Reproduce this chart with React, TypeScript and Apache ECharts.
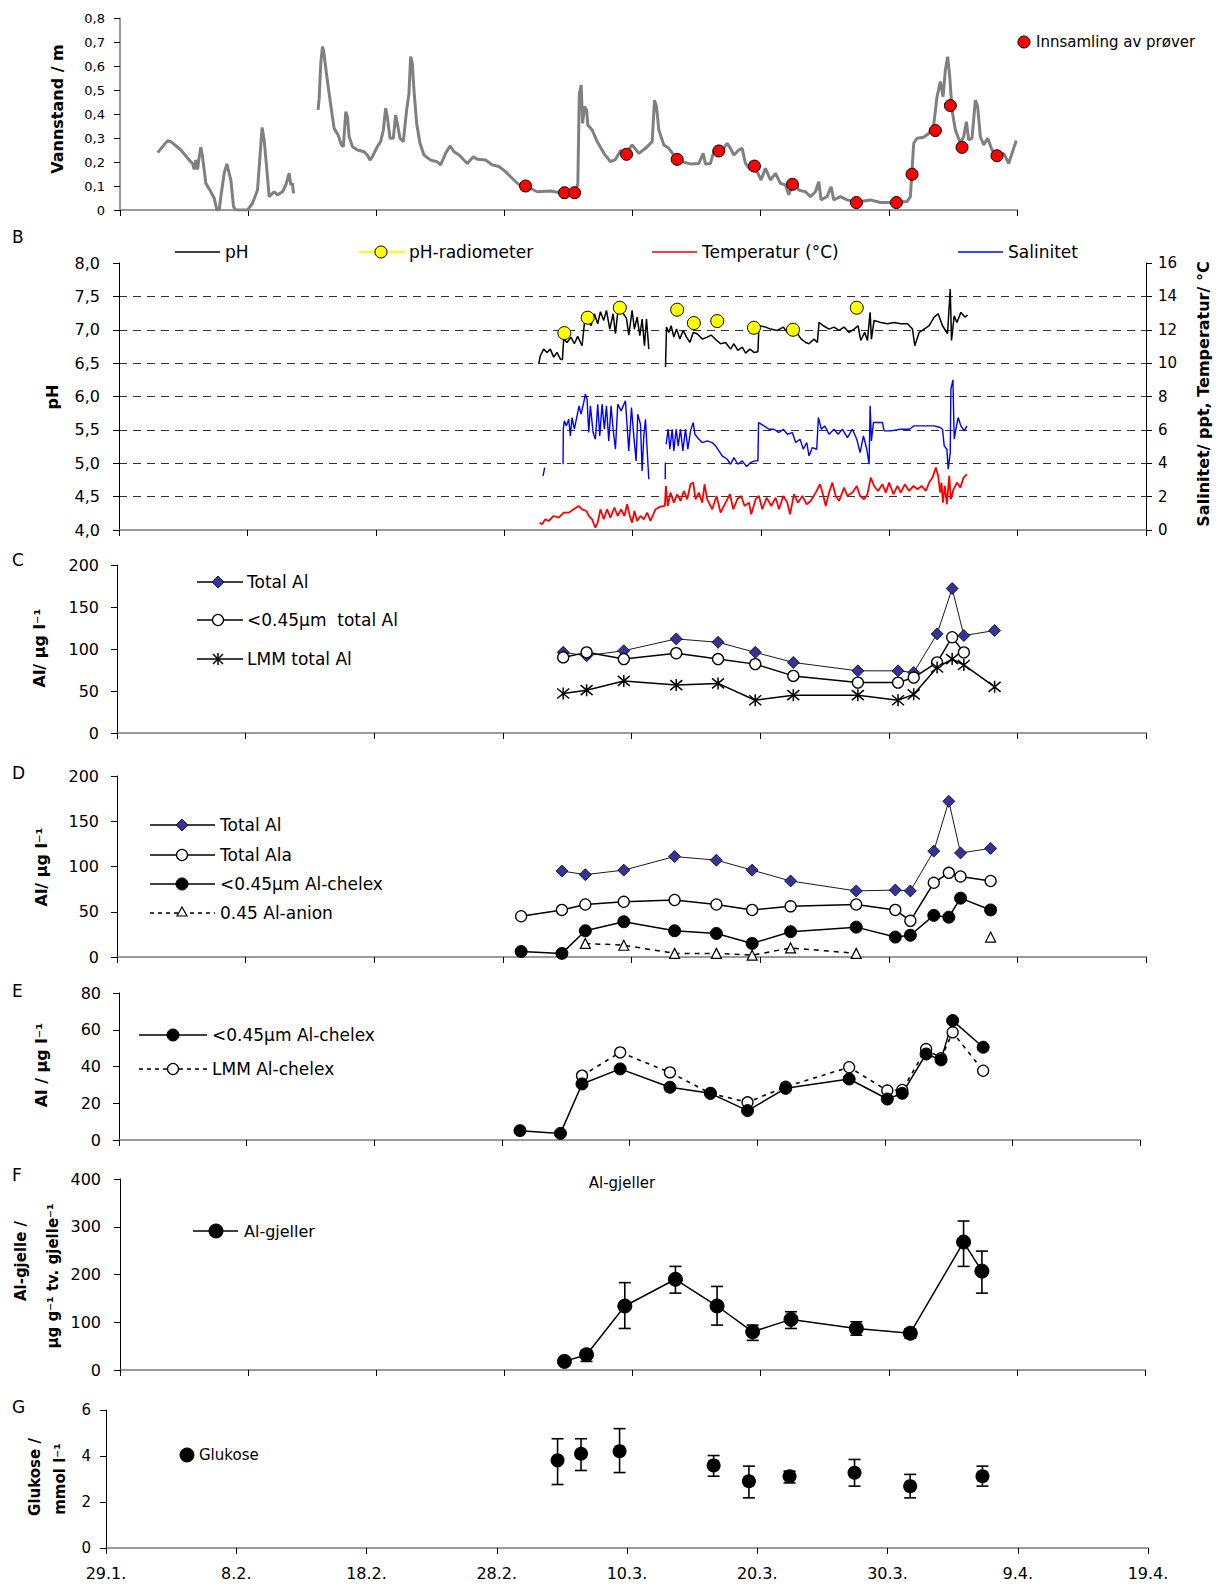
import React, { useEffect, useRef } from 'react';
import * as echarts from 'echarts';

// x values are days after 29.1.
const dateLabels = ['29.1.', '8.2.', '18.2.', '28.2.', '10.3.', '20.3.', '30.3.', '9.4.', '19.4.'];

// A: water level (m)
const waterLevel: [number, number | string][] = [
  [2.94, 0.239], [3.72, 0.289], [3.97, 0.285], [4.75, 0.25], [5.4, 0.208], [5.66, 0.194], [5.79, 0.169], [5.92, 0.208],
  [6.05, 0.169], [6.18, 0.222], [6.31, 0.261], [6.44, 0.222], [6.57, 0.167], [6.7, 0.111], [7.09, 0.076], [7.35, 0.049],
  [7.56, 0], [7.74, 0], [7.87, 0.056], [8.13, 0.153], [8.34, 0.192], [8.65, 0.125], [8.86, 0.014], [9.04, 0], [9.95, 0],
  [10.34, 0.028], [10.73, 0.083], [10.94, 0.236], [11.09, 0.344], [11.25, 0.292], [11.46, 0.167], [11.64, 0.056],
  [12.03, 0.076], [12.29, 0.063], [12.68, 0.076], [12.94, 0.104], [13.2, 0.153], [13.33, 0.104], [13.46, 0.111], [13.54, 0.069],
  [14.5, '-'],
  [15.46, 0.417], [15.54, 0.465], [15.67, 0.611], [15.8, 0.681], [15.9, 0.66], [15.98, 0.625], [16.14, 0.556], [16.32, 0.486],
  [16.5, 0.417], [16.71, 0.34], [17.02, 0.313], [17.28, 0.271], [17.43, 0.264], [17.62, 0.41], [17.75, 0.389], [17.88, 0.306],
  [18.14, 0.264], [18.53, 0.25], [19.05, 0.243], [19.3, 0.229], [19.51, 0.208], [19.7, 0.222], [20.08, 0.264], [20.34, 0.285],
  [20.55, 0.333], [20.73, 0.424], [20.86, 0.389], [21.07, 0.299], [21.33, 0.299], [21.51, 0.396], [21.64, 0.361], [21.85, 0.299],
  [22.11, 0.285], [22.37, 0.417], [22.55, 0.486], [22.68, 0.639], [22.81, 0.611], [22.94, 0.5], [23.15, 0.361], [23.41, 0.278],
  [23.72, 0.229], [24.24, 0.208], [24.76, 0.201], [25.02, 0.188], [25.41, 0.236], [25.75, 0.267], [26.07, 0.243], [26.46, 0.229],
  [27.1, 0.194], [27.57, 0.222], [27.88, 0.211], [28.53, 0.208], [29.05, 0.188], [29.57, 0.181], [30.09, 0.16], [30.74, 0.125],
  [31.26, 0.1], [31.65, 0.1], [32.56, 0.076], [33.6, 0.079], [34.38, 0.072], [35.55, 0.072], [35.73, 0.111], [35.84, 0.479],
  [35.99, 0.521], [36.1, 0.361], [36.25, 0.431], [36.41, 0.417], [36.51, 0.354], [36.85, 0.333], [37.24, 0.285], [37.76, 0.236],
  [38.28, 0.201], [38.67, 0.211], [39.06, 0.247], [39.58, 0.243], [39.97, 0.271], [40.49, 0.236], [41.01, 0.257], [41.53, 0.285],
  [41.71, 0.458], [41.87, 0.431], [42.05, 0.333], [42.44, 0.271], [42.83, 0.257], [43.22, 0.229], [43.87, 0.201], [44.52, 0.192],
  [45.17, 0.194], [45.51, 0.236], [45.69, 0.192], [46.08, 0.194], [46.34, 0.243], [46.99, 0.25], [47.38, 0.278], [47.64, 0.257],
  [47.9, 0.229], [48.29, 0.25], [48.55, 0.257], [48.81, 0.194], [49.2, 0.167], [49.72, 0.16], [50.03, 0.125], [50.37, 0.174],
  [50.76, 0.125], [51.15, 0.153], [51.54, 0.111], [51.93, 0.104], [52.19, 0.063], [52.58, 0.125], [52.97, 0.083], [53.49, 0.076],
  [53.88, 0.056], [54.27, 0.076], [54.53, 0.118], [54.71, 0.042], [55.18, 0.056], [55.49, 0.097], [55.7, 0.042], [56.22, 0.056],
  [56.74, 0.042], [57.26, 0.035], [57.78, 0.035], [58.56, 0.042], [59.34, 0.031], [60.38, 0.031], [61.42, 0.035], [61.68, 0.056],
  [61.94, 0.278], [62.2, 0.299], [62.72, 0.303], [63.11, 0.319], [63.5, 0.354], [63.76, 0.472], [64.02, 0.535], [64.23, 0.472],
  [64.41, 0.583], [64.59, 0.639], [64.75, 0.556], [64.93, 0.417], [65.19, 0.333], [65.58, 0.278], [65.84, 0.306], [66.05, 0.368],
  [66.23, 0.292], [66.49, 0.299], [66.75, 0.458], [66.93, 0.431], [67.14, 0.306], [67.4, 0.271], [67.71, 0.299], [68.05, 0.25],
  [68.44, 0.226], [68.96, 0.236], [69.35, 0.194], [69.74, 0.257], [69.95, 0.29],
];
const sampleDays = [31.65, 34.69, 35.47, 39.53, 43.48, 46.73, 49.51, 52.48, 57.47, 60.59, 61.81, 63.63, 64.8, 65.71, 68.44];
const sampleLevel = [0.1, 0.072, 0.072, 0.232, 0.211, 0.246, 0.183, 0.107, 0.031, 0.031, 0.149, 0.331, 0.435, 0.261, 0.226];

// B: pH, radiometer pH, temperature and salinity
const phLogger: [number, number | string][] = [
  [32.69, 6.49], [32.82, 6.61], [33.08, 6.71], [33.34, 6.66], [33.6, 6.71], [33.86, 6.59], [34.12, 6.66], [34.38, 6.56],
  [34.54, 6.55], [34.64, 6.86], [34.9, 6.81], [35.21, 6.89], [35.47, 6.79], [35.73, 6.9], [36.07, 6.76], [36.25, 7.09],
  [36.51, 7.16], [36.77, 7.06], [37.03, 7.24], [37.29, 7.09], [37.5, 7.27], [37.76, 7.14], [37.97, 7.29], [38.23, 7.01],
  [38.49, 7.24], [38.67, 6.94], [38.85, 7.26], [39.19, 7.27], [39.53, 7.17], [39.71, 6.92], [39.97, 7.29], [40.15, 7.01],
  [40.36, 7.19], [40.57, 6.91], [40.75, 7.16], [40.93, 6.76], [41.09, 7.16], [41.27, 6.71],
  [41.9, '-'],
  [42.57, 6.44], [42.65, 7.04], [42.83, 6.96], [43.01, 7.06], [43.22, 6.89], [43.43, 7.01], [43.69, 6.86], [43.95, 6.99],
  [44.21, 6.89], [44.47, 6.81], [44.73, 6.96], [45.04, 6.94], [45.43, 6.86], [45.82, 6.89], [46.13, 6.92], [46.55, 6.84],
  [46.86, 6.79], [47.25, 6.81], [47.64, 6.71], [47.9, 6.79], [48.21, 6.69], [48.55, 6.74], [48.81, 6.65], [49.15, 6.71],
  [49.46, 6.66], [49.77, 6.67], [49.85, 7.06], [50.37, 7.04], [50.76, 7.01], [51.28, 6.99], [51.75, 7.04], [52.06, 6.96],
  [52.45, 7.01], [52.84, 6.94], [53.15, 6.86], [53.49, 6.81], [53.75, 6.79], [54.14, 6.86], [54.4, 6.81], [54.53, 7.11],
  [54.87, 7.06], [55.31, 7.01], [55.7, 7.04], [56.09, 6.99], [56.48, 7.04], [56.87, 6.96], [57.26, 7.01], [57.57, 7.06],
  [57.78, 6.84], [58.09, 6.96], [58.3, 6.84], [58.51, 7.26], [58.61, 6.86], [58.82, 7.14], [59.34, 7.11], [59.86, 7.09],
  [60.38, 7.11], [60.9, 7.09], [61.42, 7.09], [61.81, 7.01], [61.99, 6.76], [62.33, 6.96], [62.72, 7.01], [63.11, 7.06],
  [63.5, 7.19], [63.81, 7.24], [64.15, 7.06], [64.54, 6.94], [64.75, 7.61], [64.85, 6.84], [65.06, 7.21], [65.27, 7.11],
  [65.58, 7.26], [65.89, 7.19], [66.1, 7.22],
];
const radioDays = [34.69, 36.51, 39.01, 43.48, 44.78, 46.6, 49.46, 52.5, 57.47];
const radioPh = [6.95, 7.18, 7.33, 7.3, 7.1, 7.13, 7.03, 7.0, 7.33];
const temperature: [number, number][] = [
  [32.77, 0.44], [32.95, 0.34], [33.21, 0.64], [33.47, 0.54], [33.86, 0.84], [34.25, 0.74], [34.64, 1.04], [35.03, 1.04],
  [35.42, 1.24], [35.81, 1.44], [36.07, 1.24], [36.41, 1.14], [36.59, 0.84], [36.85, 0.64], [37.11, 0.14], [37.29, 0.44],
  [37.5, 1.24], [37.76, 0.64], [38.02, 1.24], [38.28, 0.74], [38.59, 1.34], [38.85, 0.84], [39.11, 1.24], [39.37, 0.84],
  [39.58, 1.54], [39.79, 0.84], [39.97, 0.44], [40.15, 1.14], [40.36, 0.54], [40.62, 0.84], [40.88, 0.64], [41.14, 1.04],
  [41.4, 0.54], [41.79, 1.24], [42.18, 1.4], [42.52, 1.44], [42.6, 2.64], [42.75, 1.44], [42.96, 2.24], [43.22, 1.64],
  [43.48, 2.14], [43.74, 1.74], [44.0, 2.34], [44.26, 1.84], [44.52, 2.74], [44.73, 2.84], [44.91, 1.84], [45.17, 2.24],
  [45.43, 1.64], [45.61, 2.74], [45.82, 1.84], [46.21, 1.24], [46.55, 2.04], [46.86, 1.04], [47.25, 1.64], [47.59, 2.14],
  [47.85, 1.24], [48.16, 1.84], [48.47, 2.04], [48.73, 1.44], [49.07, 1.64], [49.25, 0.94], [49.59, 1.84], [49.85, 2.04],
  [50.11, 1.24], [50.45, 1.94], [50.81, 1.44], [51.15, 1.94], [51.41, 1.24], [51.75, 2.04], [52.06, 1.64], [52.27, 0.94],
  [52.58, 2.14], [52.89, 1.64], [53.23, 2.04], [53.57, 1.54], [53.88, 1.74], [54.27, 2.24], [54.61, 2.74], [54.87, 2.04],
  [55.05, 1.44], [55.31, 2.24], [55.57, 2.84], [55.83, 2.04], [56.09, 1.74], [56.48, 2.54], [56.74, 2.04], [57.13, 2.24],
  [57.47, 2.64], [57.73, 2.04], [58.04, 1.84], [58.3, 2.14], [58.56, 3.14], [58.82, 2.64], [59.13, 2.34], [59.47, 2.74],
  [59.73, 2.24], [59.99, 2.84], [60.33, 2.14], [60.64, 2.64], [60.9, 2.24], [61.21, 2.74], [61.55, 2.34], [61.89, 2.64],
  [62.2, 2.44], [62.51, 2.64], [62.85, 2.34], [63.11, 2.84], [63.37, 3.14], [63.63, 3.74], [63.81, 3.24], [63.97, 2.24],
  [64.07, 2.84], [64.18, 1.64], [64.33, 2.64], [64.49, 1.54], [64.67, 3.24], [64.8, 1.84], [65.01, 2.44], [65.27, 2.84],
  [65.53, 2.54], [65.79, 3.14], [66.05, 3.34],
];
const salinity: [number, number | string][] = [
  [33.03, 3.24], [33.16, 3.74], [33.5, '-'],
  [34.59, 3.94], [34.61, 6.04], [34.69, 6.54], [34.85, 6.24], [35.03, 6.64], [35.16, 5.64], [35.29, 6.74], [35.47, 6.04],
  [35.68, 6.84], [35.84, 7.44], [35.99, 6.94], [36.2, 7.64], [36.33, 8.14], [36.46, 7.84], [36.59, 5.84], [36.72, 7.44],
  [36.93, 5.84], [37.11, 5.44], [37.29, 7.54], [37.45, 5.64], [37.63, 7.54], [37.81, 6.04], [37.97, 7.44], [38.15, 5.34],
  [38.33, 7.44], [38.49, 6.04], [38.67, 4.84], [38.85, 7.54], [39.11, 7.14], [39.45, 7.74], [39.71, 4.74], [39.92, 7.34],
  [40.1, 5.64], [40.28, 4.14], [40.41, 6.94], [40.62, 6.34], [40.75, 3.54], [40.88, 5.64], [41.01, 6.64], [41.14, 4.84],
  [41.27, 3.04], [41.9, '-'],
  [42.55, 3.04], [42.56, 4.04], [42.59, '-'],
  [42.62, 5.14], [42.78, 6.04], [42.91, 4.84], [43.09, 6.04], [43.22, 4.74], [43.4, 6.04], [43.56, 5.04], [43.74, 6.04],
  [43.92, 4.74], [44.13, 6.04], [44.31, 4.84], [44.52, 5.94], [44.73, 6.44], [44.86, 5.74], [45.17, 5.44], [45.43, 5.24],
  [45.82, 5.34], [46.21, 5.24], [46.47, 5.04], [46.73, 4.74], [46.99, 4.44], [47.38, 4.24], [47.64, 3.94], [47.9, 4.34],
  [48.21, 3.94], [48.55, 4.14], [48.89, 3.8], [49.2, 4.04], [49.51, 4.14], [49.77, 4.14], [49.82, 6.44], [50.24, 6.24],
  [50.63, 6.04], [51.02, 6.04], [51.41, 5.84], [51.75, 6.04], [52.06, 5.74], [52.45, 5.84], [52.71, 5.24], [53.05, 5.44],
  [53.31, 4.84], [53.57, 5.24], [53.75, 4.44], [54.01, 4.94], [54.35, 4.84], [54.48, 6.74], [54.71, 6.04], [54.97, 6.24],
  [55.31, 5.74], [55.7, 6.04], [56.01, 5.74], [56.35, 6.04], [56.74, 5.54], [57.13, 6.04], [57.47, 5.44], [57.73, 4.64],
  [57.99, 5.64], [58.25, 4.84], [58.43, 3.94], [58.51, 7.44], [58.61, 5.34], [58.77, 6.44], [59.08, 6.44], [59.47, 6.44],
  [59.6, 5.94], [60.12, 5.94], [60.9, 6.04], [61.55, 6.04], [61.94, 6.24], [62.46, 6.24], [62.98, 6.24], [63.5, 6.24],
  [63.97, 6.14], [64.15, 6.04], [64.28, 5.04], [64.49, 4.84], [64.59, 3.64], [64.75, 4.64], [64.8, 8.44], [64.96, 9.0],
  [65.06, 5.44], [65.19, 6.04], [65.37, 6.74], [65.58, 6.24], [65.84, 5.94], [66.05, 6.24],
];

// C: total Al fractions
const cDays = [34.69, 36.51, 39.4, 43.48, 46.73, 49.62, 52.58, 57.6, 60.72, 61.94, 63.76, 64.93, 65.84, 68.23];
const cTotalAl = [96, 92, 98, 112, 108, 96, 84, 74, 74, 72, 118, 172, 116, 122];
const cFiltered = [90, 96, 88, 95, 88, 82, 68, 60, 60, 66, 84, 114, 96, null];
const cLmm = [47, 51, 62, 57, 59, 39, 45, 45, 39, 46, 78, 88, 81, 55];

// D: Al species
const dDays = [31.42, 34.59, 36.41, 39.4, 43.35, 46.6, 49.38, 52.37, 57.47, 60.51, 61.68, 63.5, 64.67, 65.58, 67.92];
const dTotalAl = [null, 95, 91, 96, 111, 107, 96, 84, 73, 74, 73, 117, 172, 115, 120];
const dTotalAla = [45, 52, 58, 61, 63, 58, 52, 56, 58, 52, 40, 82, 93, 89, 84];
const dChelex = [6, 4, 29, 39, 29, 26, 15, 28, 33, 22, 24, 46, 44, 65, 52];
const dAnion = [null, null, 15, 13, 4, 4, 2, 10, 4, null, null, null, null, null, 22];

// E: Al-chelex
const eDays = [31.42, 34.59, 36.28, 39.27, 43.17, 46.34, 49.25, 52.24, 57.21, 60.2, 61.37, 63.24, 64.41, 65.32, 67.71];
const eChelex = [5.1, 3.6, 30.5, 38.7, 28.7, 25.4, 16, 28.1, 33.2, 22.3, 25.4, 46.8, 43.6, 65, 50.5];
const eLmmChelex = [null, null, 35, 47.7, 36.8, 25.4, 20.5, 29, 39.6, 26.9, 27.2, 49.5, 44.5, 58.6, 37.7];

// F: Al on gills
const fDays = [34.69, 36.41, 39.4, 43.35, 46.6, 49.38, 52.37, 57.47, 61.68, 65.84, 67.27];
const fGill = [18, 32, 134, 190, 134, 80, 106, 87, 77, 268, 207];
const fLow = [null, 18, 87, 161, 94, 62, 87, 73, 67, 217, 161];
const fHigh = [null, 41, 183, 217, 175, 94, 122, 101, 86, 312, 249];

// G: glucose
const gDays = [34.67, 36.47, 39.43, 46.65, 49.36, 52.48, 57.47, 61.74, 67.29];
const gGlucose = [3.81, 4.1, 4.21, 3.59, 2.9, 3.12, 3.27, 2.69, 3.12];
const gLow = [2.76, 3.37, 3.28, 3.12, 2.18, 2.83, 2.69, 2.18, 2.69];
const gHigh = [4.75, 4.75, 5.19, 4.02, 3.56, 3.34, 3.85, 3.2, 3.56];

const FONT = '"DejaVu Sans", sans-serif';
const STAR = 'path://M0,-6L0,6M-5,-5L5,5M-5,5L5,-5';
const NAVY = '#333399';

const zip = (xs: number[], ys: (number | null)[]) => xs.map((x, i) => [x, ys[i] == null ? '-' : ys[i]]);

const commaFmt = (digits: number, zeroPlain: boolean) => (v: number) =>
  zeroPlain && v === 0 ? '0' : v.toFixed(digits).replace('.', ',');

function xAxis(gridIndex: number, max: number, labels: boolean) {
  return {
    type: 'value', gridIndex, min: 0, max, interval: 10,
    axisLine: { show: true, onZero: false, lineStyle: { color: '#7a7a7a', width: 1.5 } },
    axisTick: { show: true, length: 6, lineStyle: { color: '#000' } },
    axisLabel: labels
      ? { show: true, margin: 17, fontFamily: FONT, fontSize: 16, color: '#000', showMinLabel: true, showMaxLabel: true,
          formatter: (v: number) => dateLabels[Math.round(v / 10)] }
      : { show: false },
    splitLine: { show: false },
  };
}

function yAxis(gridIndex: number, min: number, max: number, interval: number, extra: any = {}) {
  const { axisLabel, ...rest } = extra;
  return {
    type: 'value', gridIndex, min, max, interval,
    axisLine: { show: true, lineStyle: { color: '#000', width: 1 } },
    axisTick: { show: true, length: 6, lineStyle: { color: '#000' } },
    splitLine: { show: false },
    ...rest,
    axisLabel: { fontFamily: FONT, fontSize: 15, color: '#000', margin: 18, ...(axisLabel || {}) },
  };
}

function lineSeries(name: string, xi: number, yi: number, data: any[], opts: any = {}) {
  return {
    name, type: 'line', xAxisIndex: xi, yAxisIndex: yi, data,
    symbol: 'none', connectNulls: false, silent: true,
    lineStyle: { color: '#000', width: 1.5 },
    ...opts,
  };
}

function errorBars(xi: number, yi: number, days: number[], lo: (number | null)[], hi: (number | null)[]) {
  const data = days.map((d, i) => [d, lo[i], hi[i]]).filter((r) => r[1] != null);
  return {
    type: 'custom', xAxisIndex: xi, yAxisIndex: yi, data, z: 1, silent: true,
    encode: { x: 0, y: [1, 2] },
    renderItem: (_p: any, api: any) => {
      const x = api.value(0);
      const a = api.coord([x, api.value(1)]);
      const b = api.coord([x, api.value(2)]);
      const w = 6;
      const st = { stroke: '#000', lineWidth: 1.6 };
      return {
        type: 'group',
        children: [
          { type: 'line', shape: { x1: a[0], y1: a[1], x2: b[0], y2: b[1] }, style: st },
          { type: 'line', shape: { x1: a[0] - w, y1: a[1], x2: a[0] + w, y2: a[1] }, style: st },
          { type: 'line', shape: { x1: b[0] - w, y1: b[1], x2: b[0] + w, y2: b[1] }, style: st },
        ],
      };
    },
  };
}

// legend and label helpers (graphic)
const txt = (text: string, x: number, y: number, size = 16, extra: any = {}) => ({
  type: 'text', x, y, silent: true,
  style: { text, font: `${size}px ${FONT}`, fill: '#000', textAlign: 'left', align: 'left',
    textVerticalAlign: 'middle', verticalAlign: 'middle', ...extra },
});
const vtxt = (text: string, x: number, y: number, size = 16) => ({
  type: 'text', x, y, rotation: Math.PI / 2, silent: true,
  style: { text, font: `bold ${size}px ${FONT}`, fill: '#000', textAlign: 'center', align: 'center',
    textVerticalAlign: 'middle', verticalAlign: 'middle' },
});
const hline = (x1: number, x2: number, y: number, stroke = '#000', dash?: number[], lw = 1.5) => ({
  type: 'line', silent: true, shape: { x1, y1: y, x2, y2: y }, style: { stroke, lineWidth: lw, lineDash: dash },
});
const dot = (cx: number, cy: number, r: number, fill: string, lw = 1) => ({
  type: 'circle', silent: true, shape: { cx, cy, r }, style: { fill, stroke: '#000', lineWidth: lw },
});
const diamond = (cx: number, cy: number, r: number) => ({
  type: 'polygon', silent: true,
  shape: { points: [[cx, cy - r], [cx + r, cy], [cx, cy + r], [cx - r, cy]] },
  style: { fill: NAVY, stroke: '#000', lineWidth: 0.8 },
});
const triangle = (cx: number, cy: number, r: number) => ({
  type: 'polygon', silent: true,
  shape: { points: [[cx, cy - r], [cx + r, cy + r * 0.8], [cx - r, cy + r * 0.8]] },
  style: { fill: '#fff', stroke: '#000', lineWidth: 1.2 },
});
const star = (cx: number, cy: number) => ({
  type: 'group', silent: true,
  children: [
    { type: 'line', shape: { x1: cx, y1: cy - 6, x2: cx, y2: cy + 6 }, style: { stroke: '#000', lineWidth: 1.5 } },
    { type: 'line', shape: { x1: cx - 5, y1: cy - 5, x2: cx + 5, y2: cy + 5 }, style: { stroke: '#000', lineWidth: 1.5 } },
    { type: 'line', shape: { x1: cx - 5, y1: cy + 5, x2: cx + 5, y2: cy - 5 }, style: { stroke: '#000', lineWidth: 1.5 } },
  ],
});

const App: React.FC = () => {
  const chartRef = useRef<HTMLDivElement>(null);

  useEffect(() => {
    if (!chartRef.current) return undefined;
    const chart = echarts.init(chartRef.current, undefined, { renderer: 'svg' });

    const openCircle = { symbol: 'circle', symbolSize: 11, itemStyle: { color: '#fff', borderColor: '#000', borderWidth: 1.3 } };
    const filledCircle = (size: number) => ({ symbol: 'circle', symbolSize: size, itemStyle: { color: '#000', borderColor: '#000' } });
    const diamondSym = { symbol: 'diamond', symbolSize: 12, itemStyle: { color: NAVY, borderColor: '#000', borderWidth: 0.8 } };

    const option: any = {
      animation: false,
      backgroundColor: '#fff',
      grid: [
        { left: 120, top: 18, width: 897, height: 192 },
        { left: 119, top: 263, width: 1027, height: 267 },
        { left: 117, top: 565, width: 1029, height: 168 },
        { left: 117, top: 776, width: 1029, height: 181 },
        { left: 119, top: 993, width: 1021, height: 147 },
        { left: 120, top: 1179, width: 1025, height: 191 },
        { left: 106, top: 1410, width: 1042, height: 138 },
      ],
      xAxis: [
        xAxis(0, 70, false), xAxis(1, 80, false), xAxis(2, 80, false), xAxis(3, 80, false),
        xAxis(4, 80, false), xAxis(5, 80, false), xAxis(6, 80, true),
      ],
      yAxis: [
        yAxis(0, 0, 0.8, 0.1, {
          axisLine: { show: true, lineStyle: { color: '#7a7a7a', width: 1.5 } },
          axisLabel: { fontSize: 13, margin: 15, formatter: commaFmt(1, true) },
        }),
        yAxis(1, 4, 8, 0.5, {
          axisLabel: { fontSize: 16, margin: 19, formatter: commaFmt(1, false) },
          splitLine: { show: true, showMinLine: false, showMaxLine: false, lineStyle: { color: '#333', width: 1, type: [8, 6] } },
        }),
        yAxis(1, 0, 16, 2, { position: 'right', axisLabel: { fontSize: 15, margin: 12 } }),
        yAxis(2, 0, 200, 50, { axisLabel: { fontSize: 16, margin: 18 } }),
        yAxis(3, 0, 200, 50, { axisLabel: { fontSize: 16, margin: 18 } }),
        yAxis(4, 0, 80, 20, { axisLabel: { fontSize: 16, margin: 18 } }),
        yAxis(5, 0, 400, 100, { axisLabel: { fontSize: 16, margin: 19 } }),
        yAxis(6, 0, 6, 2, { axisLabel: { fontSize: 15, margin: 15 } }),
      ],
      series: [
        // A
        lineSeries('Vannstand', 0, 0, waterLevel, { lineStyle: { color: '#808080', width: 3 } }),
        {
          name: 'Innsamling av prøver', type: 'scatter', xAxisIndex: 0, yAxisIndex: 0, silent: true,
          data: zip(sampleDays, sampleLevel), symbolSize: 12, z: 3,
          itemStyle: { color: '#ff0000', borderColor: '#000', borderWidth: 1, opacity: 1 },
        },
        // B
        lineSeries('Temperatur (°C)', 1, 2, temperature, { lineStyle: { color: '#ff0000', width: 1.8 } }),
        lineSeries('Salinitet', 1, 2, salinity, { lineStyle: { color: '#0000ff', width: 1.4 } }),
        lineSeries('pH', 1, 1, phLogger, { lineStyle: { color: '#000', width: 1.5 } }),
        {
          name: 'pH-radiometer', type: 'scatter', xAxisIndex: 1, yAxisIndex: 1, silent: true,
          data: zip(radioDays, radioPh), symbolSize: 13, z: 3,
          itemStyle: { color: '#ffff00', borderColor: '#000', borderWidth: 1, opacity: 1 },
        },
        // C
        lineSeries('Total Al', 2, 3, zip(cDays, cTotalAl), { ...diamondSym, lineStyle: { color: '#000', width: 0.9 } }),
        lineSeries('<0.45µm total Al', 2, 3, zip(cDays, cFiltered), { ...openCircle, lineStyle: { color: '#000', width: 1.5 } }),
        lineSeries('LMM total Al', 2, 3, zip(cDays, cLmm), {
          symbol: STAR, symbolSize: 12, itemStyle: { color: 'none', borderColor: '#000', borderWidth: 1.5 },
          lineStyle: { color: '#000', width: 1.5 },
        }),
        // D
        lineSeries('Total Al D', 3, 4, zip(dDays, dTotalAl), { ...diamondSym, lineStyle: { color: '#000', width: 0.9 } }),
        lineSeries('Total Ala', 3, 4, zip(dDays, dTotalAla), { ...openCircle, lineStyle: { color: '#000', width: 1.5 } }),
        lineSeries('<0.45µm Al-chelex D', 3, 4, zip(dDays, dChelex), { ...filledCircle(12), lineStyle: { color: '#000', width: 1.5 } }),
        lineSeries('0.45 Al-anion', 3, 4, zip(dDays, dAnion), {
          symbol: 'triangle', symbolSize: 10, itemStyle: { color: '#fff', borderColor: '#000', borderWidth: 1.2 },
          lineStyle: { color: '#000', width: 1.5, type: [5, 5] },
        }),
        // E
        lineSeries('LMM Al-chelex', 4, 5, zip(eDays, eLmmChelex), {
          ...openCircle, lineStyle: { color: '#000', width: 1.6, type: [4, 5] },
        }),
        lineSeries('<0.45µm Al-chelex E', 4, 5, zip(eDays, eChelex), { ...filledCircle(12), lineStyle: { color: '#000', width: 1.5 } }),
        // F
        errorBars(5, 6, fDays, fLow, fHigh),
        lineSeries('Al-gjeller', 5, 6, zip(fDays, fGill), { ...filledCircle(14), lineStyle: { color: '#000', width: 1.5 }, z: 3 }),
        // G
        errorBars(6, 7, gDays, gLow, gHigh),
        {
          name: 'Glukose', type: 'scatter', xAxisIndex: 6, yAxisIndex: 7, silent: true, z: 3,
          data: zip(gDays, gGlucose), symbolSize: 14, itemStyle: { color: '#000', opacity: 1 },
        },
      ],
      graphic: {
        elements: [
          // A
          vtxt('Vannstand / m', 57, 109, 16),
          dot(1024, 42, 6, '#ff0000'),
          txt('Innsamling av prøver', 1036, 42, 15),
          // B
          txt('B', 12, 237, 17),
          hline(175, 220, 252), txt('pH', 225, 252, 17),
          hline(359, 405, 252, '#ffff00', undefined, 2), dot(381, 252, 6, '#ffff00'), txt('pH-radiometer', 409, 252, 17),
          hline(652, 697, 252, '#ff0000'), txt('Temperatur (°C)', 702, 252, 17),
          hline(958, 1003, 252, '#0000ff'), txt('Salinitet', 1008, 252, 17),
          vtxt('pH', 52, 397, 16),
          vtxt('Salinitet/ ppt, Temperatur/ °C', 1203, 394, 16),
          // C
          txt('C', 12, 560, 17),
          vtxt('Al/ µg l⁻¹', 39, 648, 16),
          hline(197, 243, 582), diamond(218, 582, 6), txt('Total Al', 247, 582, 17),
          hline(197, 243, 620), dot(218, 620, 5.5, '#fff', 1.3), txt('<0.45µm  total Al', 247, 620, 17),
          hline(197, 243, 659), star(218, 659), txt('LMM total Al', 247, 659, 17),
          // D
          txt('D', 12, 773, 17),
          vtxt('Al/ µg l⁻¹', 41, 867, 16),
          hline(150, 215, 825), diamond(182, 825, 6), txt('Total Al', 220, 825, 17),
          hline(150, 215, 855), dot(182, 855, 5.5, '#fff', 1.3), txt('Total Ala', 220, 855, 17),
          hline(150, 215, 884), dot(182, 884, 6, '#000'), txt('<0.45µm Al-chelex', 220, 884, 17),
          hline(150, 215, 913, '#000', [4, 4]), triangle(182, 912, 5), txt('0.45 Al-anion', 220, 913, 17),
          // E
          txt('E', 12, 991, 17),
          vtxt('Al / µg l⁻¹', 41, 1065, 16),
          hline(139, 207, 1035), dot(173, 1035, 6, '#000'), txt('<0.45µm Al-chelex', 212, 1035, 17),
          hline(139, 207, 1069, '#000', [4, 4]), dot(173, 1069, 5.5, '#fff', 1.3), txt('LMM Al-chelex', 212, 1069, 17),
          // F
          txt('F', 12, 1175, 17),
          txt('Al-gjeller', 622, 1183, 15, { textAlign: 'center', align: 'center' }),
          vtxt('Al-gjelle /', 21, 1261, 15),
          vtxt('µg g⁻¹ tv. gjelle⁻¹', 53, 1276, 15),
          hline(193, 238, 1231), dot(216, 1231, 7, '#000'), txt('Al-gjeller', 244, 1231, 16),
          // G
          txt('G', 12, 1407, 17),
          vtxt('Glukose /', 35, 1477, 15),
          vtxt('mmol l⁻¹', 60, 1479, 15),
          dot(187, 1455, 7, '#000'), txt('Glukose', 199, 1455, 15),
        ],
      },
    };

    chart.setOption(option);
    return () => {
      chart.dispose();
    };
  }, []);

  return (
    <div
      ref={chartRef}
      style={{ position: 'absolute', left: 0, top: 0, width: '1225px', height: '1584px', background: '#fff' }}
    />
  );
};

export default App;
